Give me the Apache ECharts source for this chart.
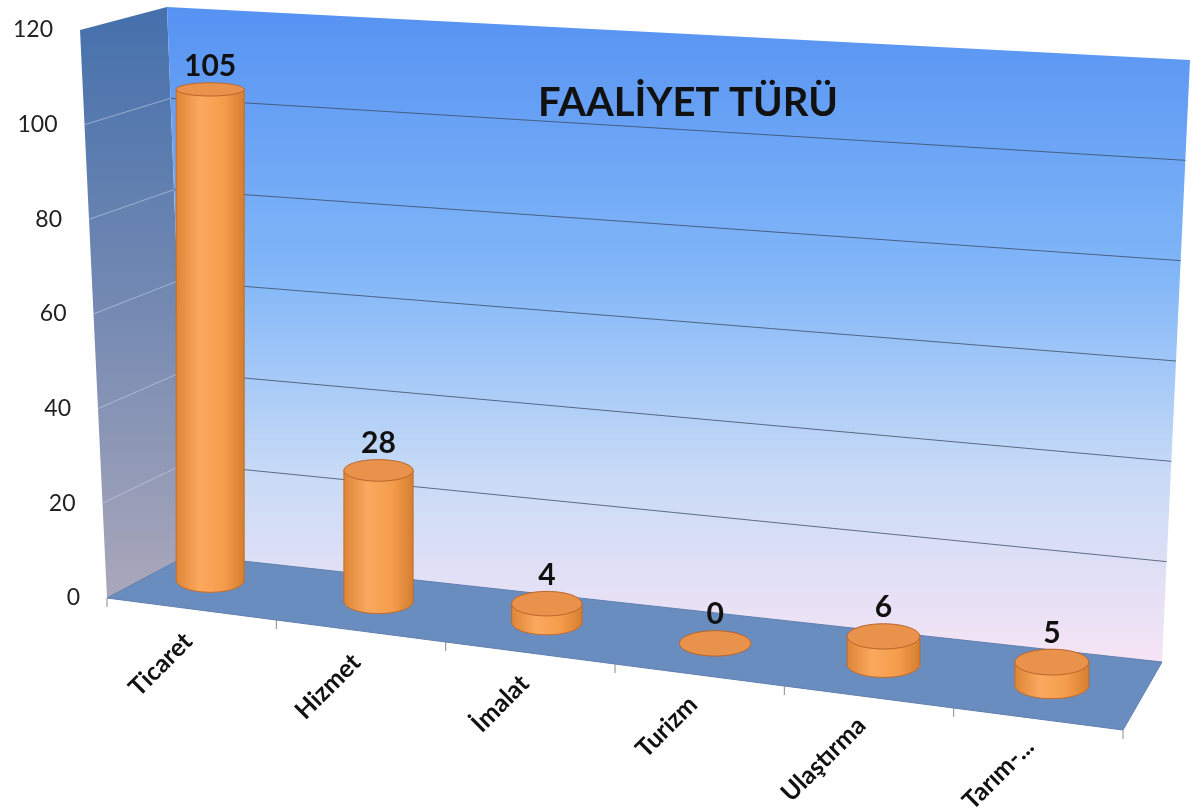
<!DOCTYPE html>
<html>
<head>
<meta charset="utf-8">
<script src="https://cdn.jsdelivr.net/npm/echarts@6/dist/echarts.min.js"></script>
<style>
  html, body { margin: 0; background: #fff; }
  #chart { width: 1200px; height: 812px; }
</style>
</head>
<body>
<div id="chart"></div>
<script>
const categories = ['Ticaret', 'Hizmet', 'İmalat', 'Turizm', 'Ulaştırma', 'Tarım-...'];
const counts = [105, 28, 4, 0, 6, 5];
const yTicks = [0, 20, 40, 60, 80, 100, 120];
const chartTitle = 'FAALİYET TÜRÜ';

const X_MIN = -0.5;
const X_MAX = categories.length - 0.5;
const Y_MAX = 120;
const FONT = 'Lato, "Open Sans", sans-serif';

// pixel offsets of the fake 3d box corners from the flat grid corners
const backOff = { bl: [62, -39], br: [26, 68], tl: [41, -26], tr: [54, 27] };
const frontOff = { bl: [-19, 4], br: [-13, 136], tl: [-46, -3], tr: [-40, 129] };

// (category, value, depth 0=back wall .. 1=front edge) -> pixel
function proj(api, u, v, d) {
  const p = api.coord([u, v]);
  const s = (u - X_MIN) / (X_MAX - X_MIN);
  const t = v / Y_MAX;
  const mix = (o, k) =>
    (1 - s) * (1 - t) * o.bl[k] + s * (1 - t) * o.br[k] + (1 - s) * t * o.tl[k] + s * t * o.tr[k];
  return [
    p[0] + mix(backOff, 0) * (1 - d) + mix(frontOff, 0) * d,
    p[1] + mix(backOff, 1) * (1 - d) + mix(frontOff, 1) * d,
  ];
}

// the cylinders stand on a sheared plane between the wall and the front edge
function barPt(api, u, v) {
  const p = api.coord([u, v]);
  return [p[0], p[1] - 40 + 0.125 * p[0]];
}

function ellipsePts(cx, cy, rx, ry, a0, a1, n) {
  const pts = [];
  for (let k = 0; k <= n; k++) {
    const a = a0 + ((a1 - a0) * k) / n;
    pts.push([cx + rx * Math.cos(a), cy + ry * Math.sin(a)]);
  }
  return pts;
}

const vGrad = (stops) => ({
  type: 'linear', x: 0, y: 0, x2: 0, y2: 1,
  colorStops: stops.map(([offset, color]) => ({ offset, color })),
});

function renderFrame(params, api) {
  const P = (u, v, d) => proj(api, u, v, d);
  const side = [P(X_MIN, 0, 0), P(X_MIN, Y_MAX, 0), P(X_MIN, Y_MAX, 1), P(X_MIN, 0, 1)];
  const back = [P(X_MIN, 0, 0), P(X_MAX, 0, 0), P(X_MAX, Y_MAX, 0), P(X_MIN, Y_MAX, 0)];
  const floor = [P(X_MIN, 0, 0), P(X_MAX, 0, 0), P(X_MAX, 0, 1), P(X_MIN, 0, 1)];
  const children = [
    {
      type: 'polygon', shape: { points: side },
      style: { fill: vGrad([[0, '#4570AC'], [0.5, '#7389B2'], [1, '#AAA7BA']]) },
    },
    {
      type: 'polygon', shape: { points: back },
      style: { fill: vGrad([[0, '#5692F2'], [0.4, '#80B6F8'], [0.72, '#C9DBF6'], [1, '#F6E4F5']]) },
    },
    {
      type: 'polygon', shape: { points: floor },
      style: { fill: '#6A8DC0', stroke: '#5F7FAE', lineWidth: 1 },
    },
  ];
  // small ticks on the front edge at category borders
  for (let i = -1; i < categories.length; i++) {
    const q = P(i + 0.5, 0, 1);
    children.push({
      type: 'line', shape: { x1: q[0], y1: q[1], x2: q[0], y2: q[1] + 9 },
      style: { stroke: '#8a8a8a', lineWidth: 1 },
    });
  }
  return { type: 'group', children };
}

function renderTick(params, api) {
  const v = api.value(1);
  const children = [];
  if (v > 0 && v < Y_MAX) {
    const a = proj(api, X_MIN, v, 0);
    const b = proj(api, X_MAX, v, 0);
    const f = proj(api, X_MIN, v, 1);
    children.push({
      type: 'line', shape: { x1: a[0], y1: a[1], x2: b[0], y2: b[1] },
      style: { stroke: 'rgba(55,70,95,0.75)', lineWidth: 1 },
    });
    children.push({
      type: 'line', shape: { x1: f[0], y1: f[1], x2: a[0], y2: a[1] },
      style: { stroke: 'rgba(205,215,235,0.55)', lineWidth: 1 },
    });
  }
  const f = proj(api, X_MIN, v, 1);
  children.push({
    type: 'text', x: f[0] - 27, y: f[1],
    style: {
      text: String(v), fill: '#222', fontSize: 23, fontFamily: FONT,
      align: 'right', verticalAlign: 'middle', textAlign: 'right', textVerticalAlign: 'middle',
    },
  });
  return { type: 'group', children };
}

const bodyGrad = {
  type: 'linear', x: 0, y: 0, x2: 1, y2: 0,
  colorStops: [
    { offset: 0, color: '#DD8436' },
    { offset: 0.35, color: '#FBA95F' },
    { offset: 0.7, color: '#F49C4B' },
    { offset: 1, color: '#D57E30' },
  ],
};

function renderBar(params, api) {
  const i = api.value(0);
  const v = api.value(1);
  const base = barPt(api, i, 0);
  const top = barPt(api, i, v);
  const cx = base[0];
  const rx = 34 + 0.0035 * (cx - 210);
  const ryB = 6.5 + 0.011 * (base[1] - 80);
  const ryT = 6.5 + 0.011 * (top[1] - 80);
  const children = [];
  if (v > 0) {
    const body = [[cx - rx, top[1]]]
      .concat(ellipsePts(cx, base[1], rx, ryB, Math.PI, 0, 40))
      .concat([[cx + rx, top[1]]]);
    children.push({
      type: 'polygon', shape: { points: body },
      style: { fill: bodyGrad, stroke: '#C26C2A', lineWidth: 1 },
    });
  }
  children.push({
    type: 'polygon', shape: { points: ellipsePts(cx, top[1], rx, ryT, 0, Math.PI * 2, 60) },
    style: { fill: '#E8924B', stroke: '#B9652B', lineWidth: 1 },
  });
  children.push({
    type: 'text', x: cx, y: top[1] - ryT - 1,
    style: {
      text: String(v), fill: '#111', fontSize: 30, fontWeight: 'bold', fontFamily: FONT,
      align: 'center', verticalAlign: 'bottom', textAlign: 'center', textVerticalAlign: 'bottom',
    },
  });
  return { type: 'group', children };
}

function renderCatLabel(params, api) {
  const i = api.value(0);
  const base = barPt(api, i, 0);
  return {
    type: 'text', x: base[0] - 22, y: base[1] + 57, rotation: Math.PI / 4,
    style: {
      text: categories[params.dataIndex], fill: '#111', fontSize: 25, fontWeight: 'bold', fontFamily: FONT,
      align: 'right', verticalAlign: 'middle', textAlign: 'right', textVerticalAlign: 'middle',
    },
  };
}

const option = {
  animation: false,
  backgroundColor: '#fff',
  title: {
    text: chartTitle,
    left: 533,
    top: 78,
    z: 10,
    textStyle: { color: '#111', fontSize: 40, fontWeight: 'bold', fontFamily: FONT },
  },
  grid: { left: 126, right: 64, top: 33, bottom: 218 },
  xAxis: { type: 'value', min: X_MIN, max: X_MAX, show: false },
  yAxis: { type: 'value', min: 0, max: Y_MAX, interval: 20, show: false },
  series: [
    { type: 'custom', z: 1, silent: true, data: [[0, 0]], renderItem: renderFrame },
    { type: 'custom', z: 2, silent: true, data: yTicks.map((v) => [X_MIN, v]), renderItem: renderTick },
    { type: 'custom', z: 3, data: counts.map((v, i) => [i, v]), renderItem: renderBar },
    { type: 'custom', z: 4, silent: true, data: categories.map((c, i) => [i, 0]), renderItem: renderCatLabel },
  ],
};

const chart = echarts.init(document.getElementById('chart'));
chart.setOption(option);
</script>
</body>
</html>
